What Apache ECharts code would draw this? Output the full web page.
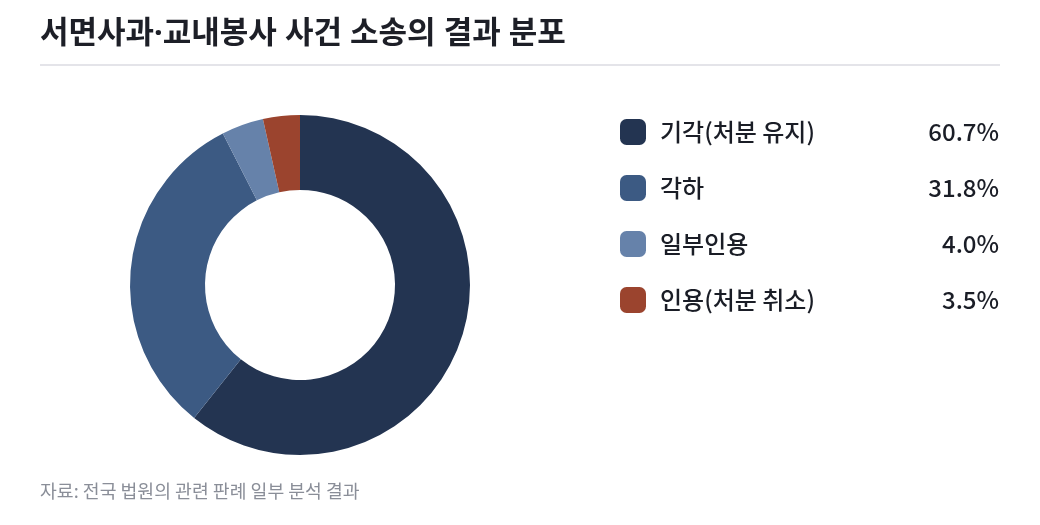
<!DOCTYPE html>
<html>
<head>
<meta charset="utf-8">
<style>
html,body{margin:0;padding:0;background:#fff;}
#c{width:1040px;height:525px;}
</style>
<script src="https://cdn.jsdelivr.net/npm/echarts@6/dist/echarts.min.js"></script>
</head>
<body>
<div id="c"></div>
<script>
const categories = ['기각(처분 유지)', '각하', '일부인용', '인용(처분 취소)'];
const values = [60.7, 31.8, 4.0, 3.5];
const colors = ['#233451', '#3c5a83', '#6682aa', '#9b442e'];
const titleText = '서면사과·교내봉사 사건 소송의 결과 분포';
const sourceText = '자료: 전국 법원의 관련 판례 일부 분석 결과';

const FONT = '"Noto Sans CJK KR", "Noto Sans", sans-serif';
const TITLE_FONT = '"Noto Sans", "Noto Sans CJK KR", sans-serif';
const chart = echarts.init(document.getElementById('c'));
const valueMap = {};
categories.forEach((c, i) => { valueMap[c] = values[i]; });

chart.setOption({
  animation: false,
  textStyle: { fontFamily: FONT },
  title: {
    text: titleText,
    left: 35,
    top: 14,
    textStyle: { fontSize: 31, fontWeight: 'bold', color: '#1d1f27', lineHeight: 31, fontFamily: TITLE_FONT }
  },
  graphic: [
    { type: 'rect', shape: { x: 40, y: 64, width: 960, height: 2 }, style: { fill: '#e4e4e9' }, silent: true },
    { type: 'text', left: 40, top: 482, style: { text: sourceText, fontSize: 18.3, fill: '#8a8e98', fontFamily: FONT }, silent: true }
  ],
  legend: {
    orient: 'vertical',
    left: 615,
    top: 114,
    itemWidth: 26,
    itemHeight: 26,
    itemGap: 30,
    icon: 'roundRect',
    selectedMode: false,
    data: categories,
    formatter: function (name) {
      return '{n|' + name + '}{v|' + valueMap[name].toFixed(1) + '%}';
    },
    textStyle: {
      fontFamily: FONT,
      rich: {
        n: { width: 250, padding: [0, 0, 0, 9], fontSize: 24, fontWeight: 500, color: '#1a1d26', lineHeight: 26, fontFamily: FONT },
        v: { width: 89, align: 'right', fontSize: 24, fontWeight: 500, color: '#1a1d26', lineHeight: 26, fontFamily: FONT }
      }
    }
  },
  series: [{
    type: 'pie',
    center: [300, 285],
    radius: [95, 170],
    startAngle: 90,
    clockwise: true,
    label: { show: false },
    labelLine: { show: false },
    emphasis: { disabled: true },
    itemStyle: { borderWidth: 0 },
    data: categories.map((c, i) => ({ name: c, value: values[i], itemStyle: { color: colors[i] } }))
  }]
});
</script>
</body>
</html>
